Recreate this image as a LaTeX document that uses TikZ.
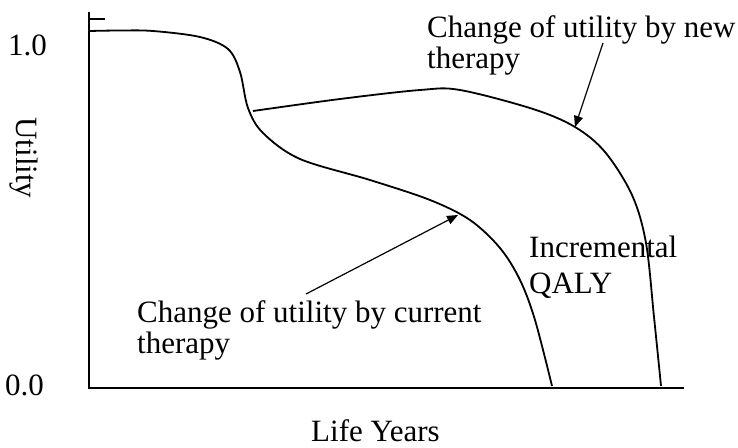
\documentclass[tikz,border=0pt]{standalone}
\usepackage{fontspec}
\setmainfont{Liberation Serif}
\usetikzlibrary{arrows.meta}
\begin{document}
\begin{tikzpicture}[x=1pt,y=-1pt,
  lbl/.style={anchor=base west,inner sep=0pt,font=\fontsize{31}{36}\selectfont},
  axis/.style={line width=2.2pt},
  curve/.style={line width=1.8pt},
  pointer/.style={line width=1.2pt,-{Triangle[length=11pt,width=9pt]}}]
\useasboundingbox (0,0) rectangle (738,447);
% axes
\coordinate (top) at (89,12);
\coordinate (origin) at (89,388);
\coordinate (xend) at (684,388);
\coordinate (tickA) at (89,19);
\coordinate (tickB) at (105,19);
\draw[axis] (top) -- (origin) -- (xend);
\draw[line width=1.5pt] (tickA) -- (tickB);
% current therapy curve
\draw[curve] plot[smooth,tension=0.55] coordinates {(89,31) (120,30.5) (153,31) (200,37) (228,49) (240,72) (248,108) (263,133) (300,159) (370,180) (430,200) (470,220) (500,248) (520,280) (535,320) (552,386)};
% new therapy curve
\draw[curve] plot[smooth,tension=0.55] coordinates {(253,111) (340,99) (420,90) (460,90) (533,109) (575,127) (605,152) (632,195) (646,243) (654,317) (661,386)};
% labels
\node[lbl] (one) at (8,55) {1.0};
\node[lbl] (zero) at (5,395) {0.0};
\node[anchor=center,inner sep=0pt,font=\fontsize{31}{36}\selectfont,rotate=-90] (util) at (24,158) {Utility};
\node[lbl] (life) at (311,441) {Life Years};
\node[lbl] (new1) at (427,37) {Change of utility by new};
\node[lbl] (new2) at (427,68) {therapy};
\node[lbl] (inc1) at (529,257) {Incremental};
\node[lbl] (inc2) at (529,293) {QALY};
\node[lbl] (cur1) at (137,322) {Change of utility by current};
\node[lbl] (cur2) at (137,353) {therapy};
% pointers
\coordinate (newtail) at (603,43);
\coordinate (newtip) at (575,127);
\coordinate (curtail) at (306,294);
\coordinate (curtip) at (458,215);
\draw[pointer] (newtail) -- (newtip);
\draw[pointer] (curtail) -- (curtip);
\end{tikzpicture}
\end{document}
